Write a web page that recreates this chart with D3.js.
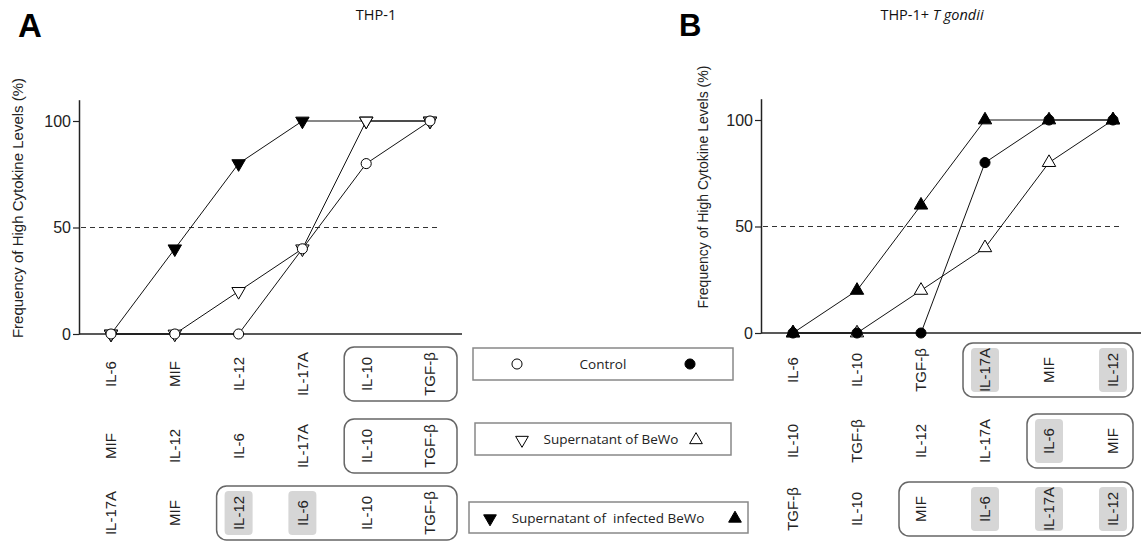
<!DOCTYPE html>
<html>
<head>
<meta charset="utf-8">
<script src="https://cdn.jsdelivr.net/npm/d3@7"></script>
<style>
  body { margin: 0; background: #fff; }
  svg { display: block; }
</style>
</head>
<body>
<svg id="chart" width="1141" height="542"></svg>
<script>
// values (rank positions 0..5)
const ticks = [0, 50, 100];

const controlA = [0, 0, 0, 40, 80, 100];
const bewoA = [0, 0, 20, 40, 100, 100];
const infectedA = [0, 40, 80, 100, 100, 100];

const controlB = [0, 0, 0, 80, 100, 100];
const bewoB = [0, 0, 20, 40, 80, 100];
const infectedB = [0, 20, 60, 100, 100, 100];

// cytokine order for each row (control / BeWo / infected BeWo)
const rowsA = [
    ["IL-6", "MIF", "IL-12", "IL-17A", "IL-10", "TGF-β"],
    ["MIF", "IL-12", "IL-6", "IL-17A", "IL-10", "TGF-β"],
    ["IL-17A", "MIF", "IL-12", "IL-6", "IL-10", "TGF-β"]
];
const boxStartA = [4, 4, 2];
const greyA = [[], [], [2, 3]];

const rowsB = [
    ["IL-6", "IL-10", "TGF-β", "IL-17A", "MIF", "IL-12"],
    ["IL-10", "TGF-β", "IL-12", "IL-17A", "IL-6", "MIF"],
    ["TGF-β", "IL-10", "MIF", "IL-6", "IL-17A", "IL-12"]
];
const boxStartB = [3, 4, 2];
const greyB = [[3, 5], [4], [3, 4, 5]];

const legendLabels = ["Control", "Supernatant of BeWo", "Supernatant of  infected BeWo"];

const svg = d3.select("#chart");
const sans = "Liberation Sans, Arial, sans-serif";
const calib = "Open Sans, sans-serif";

const circle = d3.symbol().type(d3.symbolCircle).size(80);
const tri = d3.symbol().type(d3.symbolTriangle).size(78);
const triLeg = d3.symbol().type(d3.symbolTriangle).size(70);

function marker(g, x, y, shape, filled, down) {
    g.append("path")
        .attr("d", shape === "circle" ? circle() : tri())
        .attr("transform", `translate(${x},${y})` + (down ? " rotate(180)" : ""))
        .attr("fill", filled ? "#000" : "#fff")
        .attr("stroke", "#000")
        .attr("stroke-width", 1);
}

/**
 * draws one panel: axes, 50% line, the three series and the rank rows
 */
function panel(opt) {
    const x = d3.scaleLinear().domain([0, 5]).range(opt.xRange);
    const y = d3.scaleLinear().domain([0, 110]).range([opt.y0, opt.y0 - 110 * opt.k]);
    const g = svg.append("g");

    // y axis
    const ax = g.append("g")
        .attr("transform", `translate(${opt.axisX},0)`)
        .call(d3.axisLeft(y).tickValues(ticks).tickSize(6).tickPadding(2).tickSizeOuter(0));
    ax.select(".domain").attr("stroke", "#222").attr("stroke-width", 1.5);
    ax.selectAll(".tick line").attr("stroke", "#222").attr("stroke-width", 1.2);
    ax.selectAll(".tick text").attr("font-family", sans).attr("font-size", 16).attr("fill", "#222");

    // x baseline
    g.append("line")
        .attr("x1", opt.axisX).attr("x2", opt.xEnd)
        .attr("y1", y(0)).attr("y2", y(0))
        .attr("stroke", "#222").attr("stroke-width", 1.5);

    // 50% line
    g.append("line")
        .attr("x1", opt.axisX + 2).attr("x2", opt.dashEnd)
        .attr("y1", y(50)).attr("y2", y(50))
        .attr("stroke", "#333").attr("stroke-width", 1.2)
        .attr("stroke-dasharray", "5,4");

    g.append("text")
        .attr("transform", `translate(${opt.labelX},${opt.labelY}) rotate(-90)`)
        .attr("text-anchor", "middle")
        .attr("font-family", sans).attr("font-size", opt.labelSize).attr("fill", "#222")
        .text("Frequency of High Cytokine Levels (%)");

    const line = d3.line().x((d, i) => x(i)).y(d => y(d));
    opt.series.forEach(s => {
        g.append("path").datum(s.values)
            .attr("d", line).attr("fill", "none")
            .attr("stroke", "#111").attr("stroke-width", 1);
    });
    opt.series.forEach(s => {
        s.values.forEach((v, i) => marker(g, x(i), y(v), s.shape, s.filled, s.down));
    });

    // rank rows under the axis
    opt.rows.forEach((row, r) => {
        const cy = opt.rowY[r];
        const b = opt.boxStart[r];
        g.append("rect")
            .attr("x", x(b) - 22).attr("y", cy - 27)
            .attr("width", x(5) + opt.boxRight - (x(b) - 22)).attr("height", 54)
            .attr("rx", 10)
            .attr("fill", "none").attr("stroke", "#666").attr("stroke-width", 1.5);
        opt.grey[r].forEach(i => {
            g.append("rect")
                .attr("x", x(i) - 14).attr("y", cy - 22)
                .attr("width", 28).attr("height", 44).attr("rx", 4)
                .attr("fill", "#d6d6d6");
        });
        row.forEach((lab, i) => {
            g.append("text")
                .attr("transform", `translate(${x(i)},${cy}) rotate(-90)`)
                .attr("text-anchor", "middle").attr("dy", "0.36em")
                .attr("font-family", sans).attr("font-size", 15).attr("fill", "#222")
                .text(lab);
        });
    });
}

panel({
    xRange: [111, 430], axisX: 79, xEnd: 462, dashEnd: 437,
    y0: 334, k: 2.13, labelX: 23, labelY: 208, labelSize: 15,
    series: [
        {values: infectedA, shape: "tri", filled: true, down: true},
        {values: bewoA, shape: "tri", filled: false, down: true},
        {values: controlA, shape: "circle", filled: false}
    ],
    rows: rowsA, boxStart: boxStartA, grey: greyA,
    rowY: [374, 446, 513], boxRight: 27
});

panel({
    xRange: [793, 1113], axisX: 761, xEnd: 1141, dashEnd: 1120,
    y0: 333, k: 2.13, labelX: 708, labelY: 187, labelSize: 14,
    series: [
        {values: bewoB, shape: "tri", filled: false},
        {values: infectedB, shape: "tri", filled: true},
        {values: controlB, shape: "circle", filled: true}
    ],
    rows: rowsB, boxStart: boxStartB, grey: greyB,
    rowY: [370, 441, 509], boxRight: 20
});

// panel letters and titles
svg.append("text").attr("x", 18).attr("y", 37)
    .attr("font-family", sans).attr("font-weight", "bold").attr("font-size", 33).text("A");
svg.append("text").attr("x", 679).attr("y", 36)
    .attr("font-family", sans).attr("font-weight", "bold").attr("font-size", 31).text("B");

svg.append("text").attr("x", 376).attr("y", 20).attr("text-anchor", "middle")
    .attr("font-family", calib).attr("font-size", 14.5).attr("fill", "#111").text("THP-1");
const tB = svg.append("text").attr("x", 932).attr("y", 20).attr("text-anchor", "middle")
    .attr("font-family", calib).attr("font-size", 14.5).attr("fill", "#111");
tB.append("tspan").text("THP-1+ ");
tB.append("tspan").attr("font-style", "italic").text("T gondii");

// legend boxes in the middle
const legBoxes = [
    {x: 473, y: 348, w: 260, h: 32},
    {x: 475, y: 423, w: 256, h: 32},
    {x: 469, y: 502, w: 279, h: 31}
];
const legText = [603, 611, 608];
const legMarks = [
    [{x: 517, shape: "circle", filled: false}, {x: 690, shape: "circle", filled: true}],
    [{x: 522, shape: "tri", filled: false, down: true}, {x: 696, shape: "tri", filled: false}],
    [{x: 490, shape: "tri", filled: true, down: true}, {x: 735, shape: "tri", filled: true}]
];
const leg = svg.append("g");
legBoxes.forEach((b, i) => {
    leg.append("rect").attr("x", b.x).attr("y", b.y).attr("width", b.w).attr("height", b.h)
        .attr("fill", "#fff").attr("stroke", "#888").attr("stroke-width", 1.5);
    const cy = b.y + b.h / 2;
    leg.append("text").attr("x", legText[i]).attr("y", cy + 5).attr("text-anchor", "middle")
        .style("white-space", "pre")
        .attr("font-family", calib).attr("font-size", 13.5).attr("fill", "#222")
        .text(legendLabels[i]);
    legMarks[i].forEach(m => {
        leg.append("path")
            .attr("d", m.shape === "circle" ? circle() : triLeg())
            .attr("transform", `translate(${m.x},${cy + (m.shape === "circle" ? 0 : 1)})` + (m.down ? " rotate(180)" : ""))
            .attr("fill", m.filled ? "#000" : "#fff")
            .attr("stroke", "#000").attr("stroke-width", 1);
    });
});
</script>
</body>
</html>
